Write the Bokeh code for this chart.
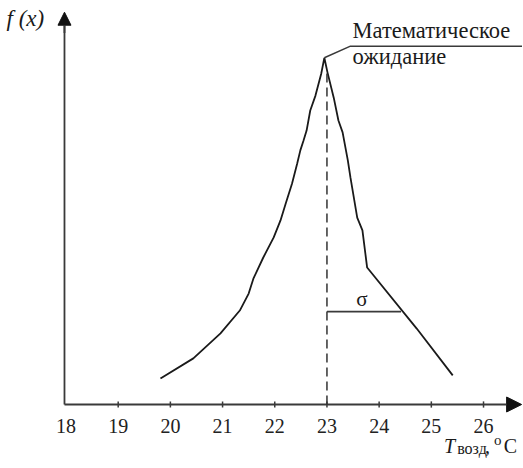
from bokeh.plotting import figure
from bokeh.models import Range1d, Arrow, NormalHead
from bokeh.core.properties import value
from bokeh.embed import file_html
from bokeh.resources import INLINE

# Air temperature (°C) and density values of the polygon
temp = [19.81, 20.44, 20.96, 21.33, 21.50, 21.59, 21.78, 21.98, 22.11, 22.21,
        22.33, 22.43, 22.49, 22.55, 22.61, 22.68, 22.78, 22.89, 22.95, 23.01,
        23.13, 23.22, 23.30, 23.40, 23.45, 23.58, 23.68, 23.77, 24.72, 25.41]
dens = [0.075, 0.133, 0.205, 0.271, 0.320, 0.363, 0.424, 0.482, 0.531, 0.580,
        0.637, 0.695, 0.733, 0.761, 0.790, 0.848, 0.891, 0.954, 1.000, 0.958,
        0.885, 0.819, 0.785, 0.704, 0.655, 0.539, 0.502, 0.395, 0.219, 0.084]
x_ticks = [18, 19, 20, 21, 22, 23, 24, 25, 26]
x_tick_labels = ["18", "19", "20", "21", "22", "23", "24", "25", "26"]
mean_t = 23.0
mean_top = 0.96
sigma_end = 24.42
sigma_level = 0.268
peak_t = 22.95
peak_f = 1.0

# geometry of the drawing (data units)
AXIS_X = 17.971
X_ARROW = 26.73
Y_ARROW = 1.1315
TICK = 0.009
LABEL_Y = -0.0634
LEADER_X = 23.45
LEADER_Y = 1.0335

AX = "#3a3a3a"
INK = "#1a1a1a"
SERIF = value("Liberation Serif")

W, H = 522, 467
PX_X, PX_Y = 52.19, 346.7
x0 = 18 - 65.5 / PX_X
y1 = 404 / PX_Y
p = figure(width=W, height=H, output_backend="svg", toolbar_location=None,
           x_range=Range1d(x0, x0 + W / PX_X), y_range=Range1d(y1 - H / PX_Y, y1),
           x_axis_location=None, y_axis_location=None,
           min_border=0, background_fill_color="white", border_fill_color="white")
p.outline_line_color = None
p.grid.visible = False

# axes
p.line([AXIS_X, X_ARROW - 0.1], [0, 0], line_color=AX, line_width=1.8)
p.line([AXIS_X, AXIS_X], [0, Y_ARROW - 0.02], line_color=AX, line_width=1.8)
p.add_layout(Arrow(end=NormalHead(size=15, fill_color="#111111", line_color="#111111"),
                   x_start=X_ARROW - 0.3, y_start=0, x_end=X_ARROW, y_end=0,
                   line_color=AX, line_width=1.8))
p.add_layout(Arrow(end=NormalHead(size=13, fill_color="#111111", line_color="#111111"),
                   x_start=AXIS_X, y_start=Y_ARROW - 0.06, x_end=AXIS_X, y_end=Y_ARROW,
                   line_color=AX, line_width=1.8))
p.segment(x0=x_ticks[1:], y0=[-TICK] * 8, x1=x_ticks[1:], y1=[TICK] * 8,
          line_color=AX, line_width=1.5)
p.text(x=x_ticks, y=[LABEL_Y] * len(x_ticks), text=x_tick_labels,
       text_font=SERIF, text_font_size="20px", text_color="#222222",
       text_align="center", text_baseline="alphabetic")

# density polygon
p.line(temp, dens, line_color=INK, line_width=1.8)
# mean dashed line
p.line([mean_t, mean_t], [0, mean_top], line_color="#333333", line_width=1.5,
       line_dash="9 5")
# sigma segment
p.line([mean_t, sigma_end], [sigma_level, sigma_level], line_color=AX, line_width=1.6)
# leader line of the annotation
p.line([peak_t, LEADER_X, x0 + W / PX_X], [peak_f, LEADER_Y, LEADER_Y],
       line_color=AX, line_width=1.5)


def txt(x, y, text, size, style="normal", align="left"):
    p.text(x=[x], y=[y], text=[text], text_font=SERIF, text_font_size=size,
           text_font_style=style, text_color=INK, text_align=align,
           text_baseline="alphabetic")


txt(23.49, 1.0788, "Математическое", "22.5px")
txt(23.49, 1.0030, "ожидание", "22.5px")
txt(23.672, 0.3057, "σ", "21px", align="center")
txt(16.86, 1.1134, "f (x)", "23px", style="italic")
txt(25.245, -0.1211, "T", "20px", style="italic")
txt(25.495, -0.1269, "возд", "16px")
txt(26.03, -0.1211, ",", "20px")
txt(26.20, -0.1024, "o", "15px")
txt(26.39, -0.1211, "C", "20px")

open("out.html", "w").write(file_html(p, INLINE))
